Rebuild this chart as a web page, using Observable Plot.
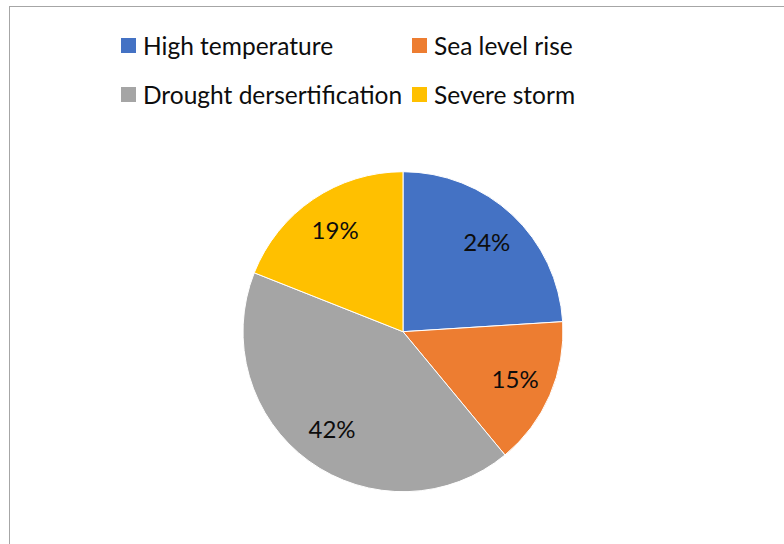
<!DOCTYPE html>
<html>
<head>
<meta charset="utf-8">
<script src="https://cdn.jsdelivr.net/npm/d3@7"></script>
<script src="https://cdn.jsdelivr.net/npm/@observablehq/plot@0.6"></script>
<style>
  html, body { margin: 0; padding: 0; background: #fff; }
  #wrap { position: relative; width: 784px; height: 544px; overflow: hidden; font-family: Lato, "Open Sans", sans-serif; }
  #border { position: absolute; left: 9px; top: 6px; width: 900px; height: 700px; border: 1px solid #a6a6a6; box-sizing: border-box; }
  #legend { position: absolute; left: 121px; top: 0; display: grid; grid-template-columns: 291px 300px; }
  .item { display: flex; align-items: center; height: 49px; font-size: 24.5px; color: #0d0d0d; white-space: nowrap; }
  .sw { width: 15px; height: 15px; margin-right: 7px; flex: none; }
  svg { position: absolute; left: 0; top: 0; }
</style>
</head>
<body>
<div id="wrap"><div id="border"></div></div>
<script>
const categories = ["High temperature", "Sea level rise", "Drought dersertification", "Severe storm"];
const values = [24, 15, 42, 19];
const labels = ["24%", "15%", "42%", "19%"];
const colors = ["#4472C4", "#ED7D31", "#A5A5A5", "#FFC000"];

const data = categories.map((c, i) => ({category: c, value: values[i], label: labels[i]}));
const arcs = d3.pie().sort(null).value(d => d.value)(data);
const labelR = 0.76;
const labelData = arcs.map(a => {
  const m = (a.startAngle + a.endAngle) / 2;
  return {label: a.data.label, x: labelR * Math.sin(m), y: labelR * Math.cos(m)};
});

const cx = 403, cy = 331.7, R = 160;

function pieMark(index, scales) {
  const x0 = scales.x(0), y0 = scales.y(0);
  const r = scales.x(1) - scales.x(0);
  const arcGen = d3.arc().innerRadius(0).outerRadius(r);
  const g = d3.create("svg:g").attr("transform", `translate(${x0},${y0})`);
  g.selectAll("path").data(arcs).join("path")
    .attr("d", arcGen)
    .attr("fill", d => scales.color(d.data.category))
    .attr("stroke", "#fff")
    .attr("stroke-width", 1);
  return g.node();
}

const chart = Plot.plot({
  width: 784,
  height: 544,
  margin: 0,
  x: {domain: [-1, 1], range: [cx - R, cx + R], axis: null},
  y: {domain: [-1, 1], range: [cy + R, cy - R], axis: null},
  color: {domain: categories, range: colors},
  style: {background: "transparent", fontFamily: "Lato, 'Open Sans', sans-serif"},
  marks: [
    pieMark,
    Plot.text(labelData, {x: "x", y: "y", text: "label", fontSize: 24, fill: "#0d0d0d"})
  ]
});
document.getElementById("wrap").appendChild(chart);

const legend = d3.select("#wrap").append("div").attr("id", "legend");
const items = legend.selectAll("div").data(categories).join("div").attr("class", "item");
items.append("div").attr("class", "sw").style("background", (d, i) => colors[i]);
items.append("span").text(d => d);
legend.style("top", "21px");
</script>
</body>
</html>
